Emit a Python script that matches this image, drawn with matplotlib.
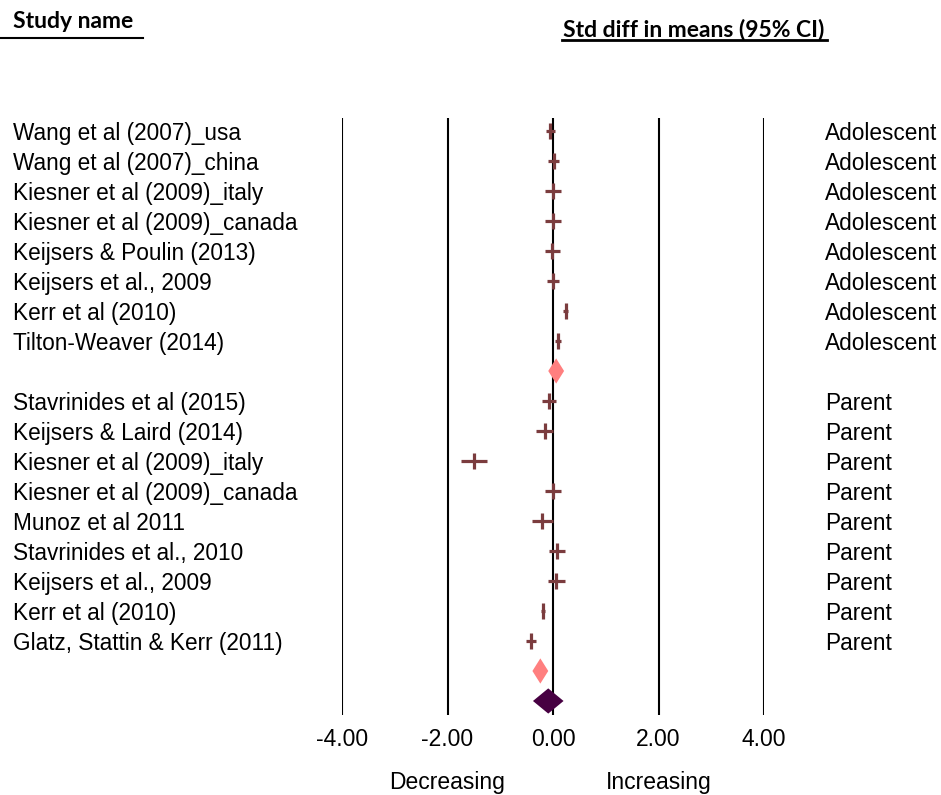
import numpy as np
import matplotlib.pyplot as plt
from matplotlib.lines import Line2D
from matplotlib.transforms import blended_transform_factory

# study data (std diff in means, 95% CI)
adol_names = ["Wang et al (2007)_usa", "Wang et al (2007)_china", "Kiesner et al (2009)_italy",
              "Kiesner et al (2009)_canada", "Keijsers & Poulin (2013)", "Keijsers et al., 2009",
              "Kerr et al (2010)", "Tilton-Weaver (2014)"]
adol_smd = [-0.05, 0.01, 0.00, 0.00, -0.01, 0.00, 0.24, 0.09]
adol_lo = [-0.14, -0.09, -0.16, -0.16, -0.15, -0.12, 0.19, 0.03]
adol_hi = [0.04, 0.11, 0.16, 0.16, 0.13, 0.12, 0.29, 0.15]
adol_pooled = [0.06, -0.09, 0.21]

par_names = ["Stavrinides et al (2015)", "Keijsers & Laird (2014)", "Kiesner et al (2009)_italy",
             "Kiesner et al (2009)_canada", "Munoz et al 2011", "Stavrinides et al., 2010",
             "Keijsers et al., 2009", "Kerr et al (2010)", "Glatz, Stattin & Kerr (2011)"]
par_smd = [-0.08, -0.16, -1.50, 0.00, -0.20, 0.08, 0.06, -0.19, -0.42]
par_lo = [-0.21, -0.32, -1.75, -0.16, -0.40, -0.07, -0.10, -0.23, -0.52]
par_hi = [0.05, 0.00, -1.25, 0.16, 0.00, 0.23, 0.22, -0.15, -0.32]
par_pooled = [-0.24, -0.39, -0.09]

overall_pooled = [-0.09, -0.38, 0.20]

ticks = [-4, -2, 0, 2, 4]

W, H = 941, 795
fig = plt.figure(figsize=(W / 100, H / 100), dpi=100)
ax = fig.add_axes([342 / W, (H - 715) / H, 422 / W, 597 / H])
ax.set_xlim(-4, 4)
ax.set_ylim(19.467, -0.433)
for s in ax.spines.values():
    s.set_visible(False)
ax.set_yticks([])
ax.set_xticks(ticks)
ax.set_xticklabels(["%.2f" % t for t in ticks], fontsize=16.5, family="Liberation Sans")
ax.tick_params(axis="x", length=0, pad=9)
for t in ticks:
    ax.axvline(t, color="black", lw=1.5, zorder=1)

col = "#7b3c3e"
fs = 16.3
lab = blended_transform_factory(fig.transFigure, ax.transData)

def draw_studies(names, smd, lo, hi, start, group):
    y = np.arange(start, start + len(names))
    ax.hlines(y, lo, hi, color=col, lw=2.3, zorder=3)
    ax.plot(smd, y, ls="none", marker="|", ms=11.5, mew=2.3, color=col, zorder=3)
    for yy, n in zip(y, names):
        ax.text(13 / W, yy, n, transform=lab, va="center_baseline", ha="left", fontsize=fs,
                family="Liberation Sans", clip_on=False)
        ax.text(825 / W, yy, group, transform=lab, va="center_baseline", ha="left", fontsize=fs,
                family="Liberation Sans", clip_on=False)

def draw_diamond(p, yy, color):
    m, lo, hi = p
    ax.fill([lo, m, hi, m], [yy, yy - 0.42, yy, yy + 0.42], color=color, lw=0, zorder=4)

draw_studies(adol_names, adol_smd, adol_lo, adol_hi, 0, "Adolescent")
draw_diamond(adol_pooled, 8, "#ff7f7f")
draw_studies(par_names, par_smd, par_lo, par_hi, 9, "Parent")
draw_diamond(par_pooled, 18, "#ff7f7f")
draw_diamond(overall_pooled, 19, "#470042")

bot = blended_transform_factory(ax.transData, fig.transFigure)
ax.text(-2, 1 - 783 / H, "Decreasing", transform=bot, ha="center", va="center",
        fontsize=16.5, family="Liberation Sans")
ax.text(2, 1 - 783 / H, "Increasing", transform=bot, ha="center", va="center",
        fontsize=16.5, family="Liberation Sans")

# headers
fig.text(13 / W, 1 - 22 / H, "Study name", fontsize=16.5, fontweight="bold", family="Lato",
         ha="left", va="center")
fig.add_artist(Line2D([0, 143 / W], [1 - 38 / H, 1 - 38 / H], color="black", lw=1.5))
fig.text(563 / W, 1 - 29 / H, "Std diff in means (95% CI)", fontsize=16.5, fontweight="bold",
         family="Lato", ha="left", va="center")
fig.add_artist(Line2D([562 / W, 827 / W], [1 - 40 / H, 1 - 40 / H], color="black", lw=2))

fig.savefig("out.png", dpi=100)
